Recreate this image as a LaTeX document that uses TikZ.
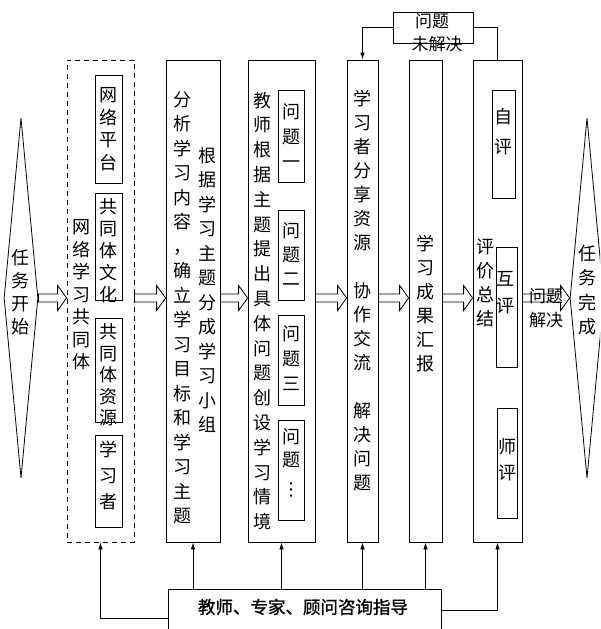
\documentclass[tikz,border=0pt]{standalone}
\usepackage{fontspec}
\newfontfamily\cjk{Noto Sans CJK SC}
\newfontfamily\cjkb[FakeBold=1.2]{Noto Sans CJK SC}
\newfontfamily\dvs{DejaVu Sans}
\usetikzlibrary{shapes.geometric,arrows.meta,calc,fit}
\tikzset{
  bx/.style={draw, line width=0.8pt, inner sep=0pt},
  dbx/.style={bx, dash pattern=on 5pt off 4pt},
  vt/.style={align=center, inner sep=0pt, font=\cjk\fontsize{18}{#1}\selectfont},
  vt/.default=24.5,
  ht/.style={inner sep=0pt, font=\cjk\fontsize{17}{20}\selectfont},
  conn/.style={line width=0.8pt},
  conna/.style={line width=0.8pt, -{Latex[length=7pt,width=4.5pt]}},
  hollow/.style={line width=0.8pt, fill=white, line join=miter},
  dia/.style={draw, line width=0.8pt, diamond, inner sep=0pt, minimum width=34pt, minimum height=360pt}
}
\newcommand\harrow[2]{\draw[hollow] let \p1=(#1.east), \p2=(#2.west), \p3=(S.center) in
  (\x1,\y3+4pt) -- (\x2-9pt,\y3+4pt) -- (\x2-9pt,\y3+12.5pt) -- (\x2,\y3) --
  (\x2-9pt,\y3-12.5pt) -- (\x2-9pt,\y3-4pt) -- (\x1,\y3-4pt) -- cycle;}
\begin{document}
\begin{tikzpicture}[x=1pt,y=-1pt]
\useasboundingbox (0,0) rectangle (600,629);
\clip (0,0) rectangle (600,629);
% diamonds
\node[dia] (S) at (21,298) {};
\node[vt=23] (St) at (21,292) {任\\务\\开\\始};
\node[dia] (R) at (587,298) {};
\node[vt] (Rt) at (587,290) {任\\务\\完\\成};
% dashed community box
\node[dbx, fit={(67,60)(134,542)}] (D) {};
\node[vt=22.5] (Dt) at (81,295) {网\\络\\学\\习\\共\\同\\体};
\node[bx, fit={(95,75)(122,183)}] (D1) {};
\node[vt=22.5] (D1t) at (108.5,129) {网\\络\\平\\台};
\node[bx, fit={(95,193)(122,300)}] (D2) {};
\node[vt=22] (D2t) at (108.5,251) {共\\同\\体\\文\\化};
\node[bx, fit={(95,318)(122,422)}] (D3) {};
\node[vt=21.5] (D3t) at (108.5,375) {共\\同\\体\\资\\源};
\node[bx, fit={(95,435)(122,527)}] (D4) {};
\node[vt=26] (D4t) at (108.5,476) {学\\习\\者};
% column 2
\node[bx, fit={(166,60)(220,542)}] (C2) {};
\node[vt] (C2a) at (182,308) {分\\析\\学\\习\\内\\容\\，\\确\\立\\学\\习\\目\\标\\和\\学\\习\\主\\题};
\node[vt] (C2b) at (207,290) {根\\据\\学\\习\\主\\题\\分\\成\\学\\习\\小\\组};
% column 3
\node[bx, fit={(248,60)(315,542)}] (C3) {};
\node[vt=24.8] (C3t) at (262,311) {教\\师\\根\\据\\主\\题\\提\\出\\具\\体\\问\\题\\创\\设\\学\\习\\情\\境};
\node[bx, fit={(278,90)(304,182)}] (Q1) {};
\node[vt=25] (Q1t) at (291,136) {问\\题\\一};
\node[bx, fit={(278,210)(304,300)}] (Q2) {};
\node[vt=24] (Q2t) at (291,254) {问\\题\\二};
\node[bx, fit={(278,315)(304,405)}] (Q3) {};
\node[vt=25] (Q3t) at (291,358) {问\\题\\三};
\node[bx, fit={(278,420)(304,520)}] (Q4) {};
\node[vt=23] (Q4t) at (291,448) {问\\题};
\node[inner sep=0pt, font=\dvs\fontsize{18}{20}\selectfont] (Q4d) at (291,490) {⋮};
% column 4
\node[bx, fit={(347,60)(378,542)}] (C4) {};
\node[vt=24] (C4t) at (362.5,291) {学\\习\\者\\分\\享\\资\\源\\[24pt]协\\作\\交\\流\\[24pt]解\\决\\问\\题};
% column 5
\node[bx, fit={(409,60)(442,542)}] (C5) {};
\node[vt=24] (C5t) at (425.5,304) {学\\习\\成\\果\\汇\\报};
% column 6
\node[bx, fit={(473,60)(522,542)}] (C6) {};
\node[vt=24] (C6t) at (485,283) {评\\价\\总\\结};
\node[bx, fit={(492,90)(515,198)}] (E1) {};
\node[vt=30] (E1t) at (503.5,132) {自\\评};
\node[bx, fit={(496,247)(517,367)}] (E2) {};
\node[vt=27] (E2t) at (505,293) {互\\评};
\node[bx, fit={(497,408)(517,518)}] (E3) {};
\node[vt=26] (E3t) at (507,460) {师\\评};
% unsolved box
\node[bx, fit={(393,12)(473,43)}] (U) {};
\node[ht] (U1) at (432,21) {问题};
\node[ht] (U2) at (437,44) {未解决};
% bottom box
\node[bx, fit={(168,589)(441,640)}] (B) {};
\node[inner sep=0pt, font=\cjkb\fontsize{17.5}{20}\selectfont] (Bt) at (303,607) {教师、专家、顾问咨询指导};
% hollow arrows
\harrow{S}{D}
\harrow{D}{C2}
\harrow{C2}{C3}
\harrow{C3}{C4}
\harrow{C4}{C5}
\harrow{C5}{C6}
\harrow{C6}{R}
\node[ht] (P1) at (546,296) {问题};
\node[ht] (P2) at (546,320) {解决};
% top feedback loop
\draw[conn] (C6.north) |- (U.east);
\draw[conna] (U.west) -| (C4.north);
% guidance arrows
\draw[conna] (B.north -| C2.south) -- (C2.south);
\draw[conna] (B.north -| C3.south) -- (C3.south);
\draw[conna] (B.north -| C4.south) -- (C4.south);
\draw[conna] (B.north -| C5.south) -- (C5.south);
\draw[conna] ([yshift=-3.5pt]B.west) -| (D.south);
\draw[conna] ([yshift=4.5pt]B.east) -| (C6.south);
\end{tikzpicture}
\end{document}
